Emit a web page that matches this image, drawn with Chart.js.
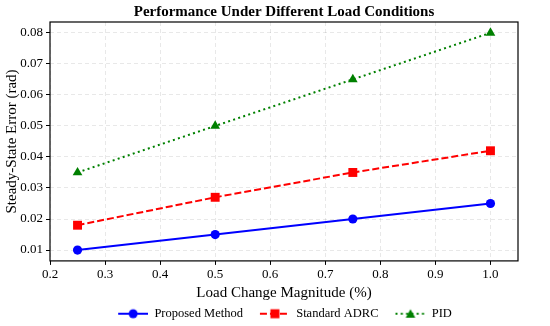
<!DOCTYPE html>
<html>
<head>
<meta charset="utf-8">
<script src="https://cdn.jsdelivr.net/npm/chart.js@4.4.0/dist/chart.umd.min.js"></script>
<style>
    html, body { margin: 0; padding: 0; background: #fff; }
    #wrap { width: 550px; height: 326px; }
</style>
</head>
<body>
<div id="wrap"><canvas id="chart" width="550" height="326"></canvas></div>
<script>
const loadLevels = [0.25, 0.5, 0.75, 1.0];
const proposedErr = [0.010, 0.015, 0.020, 0.025];
const adrcErr = [0.018, 0.027, 0.035, 0.042];
const pidErr = [0.035, 0.050, 0.065, 0.080];
const xTicks = [0.2, 0.3, 0.4, 0.5, 0.6, 0.7, 0.8, 0.9, 1.0];
const yTicks = [0.01, 0.02, 0.03, 0.04, 0.05, 0.06, 0.07, 0.08];

const FONT = "'Liberation Serif', 'Times New Roman', serif";
const ICON_GAP = 16;   // blank space in front of each legend symbol
const ICON_LINE = 30;

function toPoints(ys) {
    return loadLevels.map(function (x, i) { return { x: x, y: ys[i] }; });
}

// small canvas: line segment + marker, used as legend symbol
function legendIcon(color, dash, marker) {
    let c = document.createElement("canvas");
    c.width = ICON_GAP + ICON_LINE;
    c.height = 14;
    let ctx = c.getContext("2d");
    let x0 = ICON_GAP, mid = ICON_GAP + ICON_LINE / 2;
    ctx.strokeStyle = color;
    ctx.lineWidth = 2;
    ctx.setLineDash(dash);
    ctx.beginPath();
    ctx.moveTo(x0, 7);
    ctx.lineTo(x0 + ICON_LINE, 7);
    ctx.stroke();
    ctx.setLineDash([]);
    ctx.fillStyle = color;
    ctx.beginPath();
    if (marker === "circle") {
        ctx.arc(mid, 7, 4.5, 0, Math.PI * 2);
    } else if (marker === "rect") {
        ctx.rect(mid - 4.5, 2.5, 9, 9);
    } else {
        ctx.moveTo(mid, 2.5);
        ctx.lineTo(mid + 4.8, 11);
        ctx.lineTo(mid - 4.8, 11);
        ctx.closePath();
    }
    ctx.fill();
    return c;
}

const series = [
    { label: "Proposed Method", data: proposedErr, color: "#0000ff", dash: [], marker: "circle", radius: 4.6 },
    { label: "Standard ADRC", data: adrcErr, color: "#ff0000", dash: [7, 3], marker: "rect", radius: 6.3 },
    { label: "PID", data: pidErr, color: "#008000", dash: [2, 3.3], marker: "triangle", radius: 5.6 }
];

// centre title and legend on the plot area, like matplotlib does
const centerOnAxes = {
    id: "centerOnAxes",
    afterLayout(chart) {
        const a = chart.chartArea;
        if (chart.titleBlock) {
            chart.titleBlock.left = a.left;
            chart.titleBlock.right = a.right;
        }
        if (chart.legend) {
            chart.legend.left = a.left - ICON_GAP + 2;
            chart.legend.right = a.right;
            chart.legend.top += 4;
            chart.legend.bottom += 4;
        }
    }
};

const framePlugin = {
    id: "frame",
    afterDatasetsDraw(chart) {
        const a = chart.chartArea;
        const ctx = chart.ctx;
        ctx.save();
        ctx.strokeStyle = "#000";
        ctx.lineWidth = 1.2;
        ctx.strokeRect(a.left, a.top, a.right - a.left, a.bottom - a.top);
        ctx.restore();
    }
};

const gridOpts = {
    color: "rgba(0,0,0,0.09)",
    tickColor: "#000",
    tickLength: 4,
    tickBorderDash: [],
    tickWidth: 1
};

new Chart(document.getElementById("chart"), {
    type: "line",
    data: {
        datasets: series.map(function (s) {
            return {
                label: s.label,
                data: toPoints(s.data),
                borderColor: s.color,
                backgroundColor: s.color,
                borderWidth: 2,
                borderDash: s.dash,
                pointStyle: s.marker,
                pointRadius: s.radius,
                pointHoverRadius: s.radius,
                pointBorderWidth: 0,
                tension: 0,
                fill: false,
                _icon: legendIcon(s.color, s.dash, s.marker)
            };
        })
    },
    options: {
        responsive: false,
        animation: false,
        layout: { padding: { left: 0, right: 32, top: 0, bottom: 0 } },
        plugins: {
            tooltip: { enabled: false },
            title: {
                display: true,
                text: "Performance Under Different Load Conditions",
                color: "#000",
                font: { family: FONT, size: 15, weight: "bold" },
                padding: { top: 3, bottom: 1 }
            },
            legend: {
                position: "bottom",
                labels: {
                    usePointStyle: true,
                    pointStyleWidth: ICON_GAP + ICON_LINE,
                    boxHeight: 14,
                    padding: 1,
                    color: "#000",
                    font: { family: FONT, size: 12.5 },
                    generateLabels: function (chart) {
                        return chart.data.datasets.map(function (ds, i) {
                            return {
                                text: ds.label,
                                pointStyle: ds._icon,
                                fillStyle: ds.borderColor,
                                strokeStyle: ds.borderColor,
                                lineWidth: 0,
                                datasetIndex: i,
                                hidden: false
                            };
                        });
                    }
                }
            }
        },
        scales: {
            x: {
                type: "linear",
                min: 0.2,
                max: 1.05,
                afterBuildTicks: function (axis) {
                    axis.ticks = xTicks.map(function (v) { return { value: v }; });
                },
                ticks: {
                    color: "#000",
                    font: { family: FONT, size: 13 },
                    padding: 2,
                    maxRotation: 0,
                    callback: function (v) { return v.toFixed(1); }
                },
                grid: gridOpts,
                border: { display: false, dash: [4, 3] },
                title: {
                    display: true,
                    text: "Load Change Magnitude (%)",
                    color: "#000",
                    font: { family: FONT, size: 15 },
                    padding: { top: 0, bottom: 0 }
                }
            },
            y: {
                type: "linear",
                min: 0.0065,
                max: 0.0835,
                afterBuildTicks: function (axis) {
                    axis.ticks = yTicks.map(function (v) { return { value: v }; });
                },
                afterFit: function (axis) {
                    axis.width = 50;
                },
                ticks: {
                    color: "#000",
                    font: { family: FONT, size: 13 },
                    padding: 3,
                    callback: function (v) { return v.toFixed(2); }
                },
                grid: gridOpts,
                border: { display: false, dash: [4, 3] },
                title: {
                    display: true,
                    text: "Steady-State Error (rad)",
                    color: "#000",
                    font: { family: FONT, size: 15 },
                    padding: { top: 3, bottom: 0 }
                }
            }
        }
    },
    plugins: [centerOnAxes, framePlugin]
});
</script>
</body>
</html>
